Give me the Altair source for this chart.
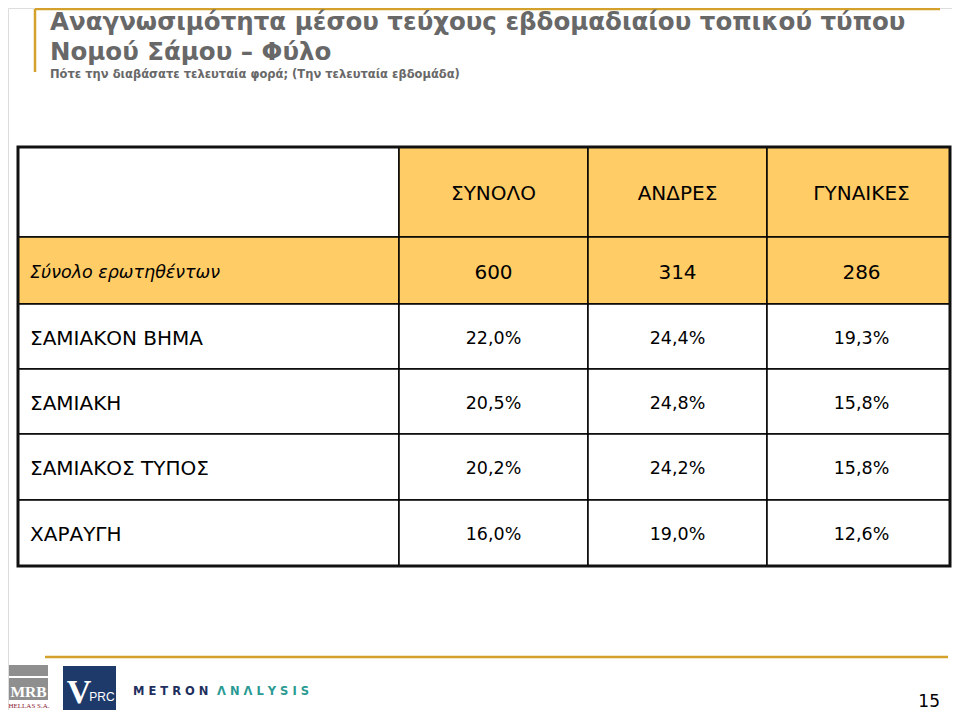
import altair as alt
import pandas as pd

# ---------------- data ----------------
col_headers = ["ΣΥΝΟΛΟ", "ΑΝΔΡΕΣ", "ΓΥΝΑΙΚΕΣ"]
base_label = "Σύνολο ερωτηθέντων"
base_counts = [600, 314, 286]
papers = ["ΣΑΜΙΑΚΟΝ ΒΗΜΑ", "ΣΑΜΙΑΚΗ", "ΣΑΜΙΑΚΟΣ ΤΥΠΟΣ", "ΧΑΡΑΥΓΗ"]
total_pct = [22.0, 20.5, 20.2, 16.0]
men_pct = [24.4, 24.8, 24.2, 19.0]
women_pct = [19.3, 15.8, 15.8, 12.6]

title_lines = ["Αναγνωσιμότητα μέσου τεύχους εβδομαδιαίου τοπικού τύπου",
               "Νομού Σάμου – Φύλο"]
subtitle = "Πότε την διαβάσατε τελευταία φορά; (Την τελευταία εβδομάδα)"
page_number = "15"

# ---------------- layout ----------------
W, H = 944, 702
COL_EDGES = [18, 399, 588, 767, 950]
ROW_EDGES = [147, 237, 304, 369, 434, 500, 566]
GOLD = "#FFCC66"
LINE_GOLD = "#D4A22C"
TITLE_GRAY = "#686868"
FONT = "DejaVu Sans"

xs = alt.Scale(domain=[8, 8 + W], range=[0, W])
ys = alt.Scale(domain=[8, 8 + H], range=[0, H])


def X(f):
    return alt.X(f"{f}:Q", scale=xs, axis=None)


def Y(f):
    return alt.Y(f"{f}:Q", scale=ys, axis=None)


def pct(v):
    return f"{v:.1f}".replace(".", ",") + "%"


# table cells
cells = []
texts = []
n_rows = 2 + len(papers)
series = [total_pct, men_pct, women_pct]
for r in range(n_rows):
    y0, y1 = ROW_EDGES[r], ROW_EDGES[r + 1]
    for c in range(4):
        x0, x1 = COL_EDGES[c], COL_EDGES[c + 1]
        if r == 0:
            fill = "white" if c == 0 else GOLD
        elif r == 1:
            fill = GOLD
        else:
            fill = "white"
        cells.append(dict(x=x0, x2=x1, y=y0, y2=y1, fill=fill))
        if r == 0:
            if c == 0:
                continue
            t, kind = col_headers[c - 1], "head"
        elif r == 1:
            if c == 0:
                t, kind = base_label, "base_label"
            else:
                t, kind = str(base_counts[c - 1]), "head"
        else:
            if c == 0:
                t, kind = papers[r - 2], "label"
            else:
                t, kind = pct(series[c - 1][r - 2]), "num"
        tx = x0 + 12 if c == 0 else (x0 + x1) / 2 + (3 if c == 3 else 0)
        texts.append(dict(x=tx, y=(y0 + y1) / 2, text=t, kind=kind))

cells_df = pd.DataFrame(cells)
texts_df = pd.DataFrame(texts)
outer_df = pd.DataFrame([dict(x=COL_EDGES[0], x2=COL_EDGES[-1],
                              y=ROW_EDGES[0], y2=ROW_EDGES[-1])])

rects = alt.Chart(cells_df).mark_rect(stroke="black", strokeWidth=1.5).encode(
    x=X("x"), x2="x2", y=Y("y"), y2="y2",
    fill=alt.Fill("fill:N", scale=None))

outer = alt.Chart(outer_df).mark_rect(
    fillOpacity=0, stroke="#111111", strokeWidth=3).encode(
    x=X("x"), x2="x2", y=Y("y"), y2="y2")


def text_layer(kind, align, size, style="normal", dy=2):
    d = texts_df[texts_df.kind == kind]
    return alt.Chart(d).mark_text(
        align=align, baseline="middle", font=FONT, fontSize=size,
        fontStyle=style, color="black", dy=dy).encode(
        x=X("x"), y=Y("y"), text="text:N")


t_head = text_layer("head", "center", 20)
t_base = text_layer("base_label", "left", 17.5, "italic")
t_label = text_layer("label", "left", 20)
t_num = text_layer("num", "center", 17.5)

# ---- header decorations ----
lines_df = pd.DataFrame([
    dict(x=35, x2=940, y=9, y2=9),
    dict(x=35, x2=35, y=9, y2=72),
    dict(x=45, x2=948, y=657, y2=657),
])
lines = alt.Chart(lines_df).mark_rule(color=LINE_GOLD, strokeWidth=2.5).encode(
    x=X("x"), x2="x2", y=Y("y"), y2="y2")

titles_df = pd.DataFrame([
    dict(x=50, y=30, text=title_lines[0]),
    dict(x=50, y=60, text=title_lines[1]),
])
titles = alt.Chart(titles_df).mark_text(
    align="left", baseline="alphabetic", font=FONT, fontSize=24.5,
    fontWeight="bold", color=TITLE_GRAY).encode(
    x=X("x"), y=Y("y"), text="text:N")

sub = alt.Chart(pd.DataFrame([dict(x=50, y=78, text=subtitle)])).mark_text(
    align="left", baseline="alphabetic", font=FONT, fontSize=11.5,
    fontWeight="bold", color=TITLE_GRAY).encode(
    x=X("x"), y=Y("y"), text="text:N")

# ---- footer logos ----
logo_rects = pd.DataFrame([
    dict(x=9, x2=48, y=665, y2=676, fill="#8f8f8f"),
    dict(x=9, x2=48, y=678, y2=700, fill="#8f8f8f"),
    dict(x=63, x2=116, y=666, y2=710, fill="#1E3A6B"),
])
logos = alt.Chart(logo_rects).mark_rect().encode(
    x=X("x"), x2="x2", y=Y("y"), y2="y2", fill=alt.Fill("fill:N", scale=None))

mrb = alt.Chart(pd.DataFrame([dict(x=28.5, y=697, text="MRB")])).mark_text(
    align="center", baseline="alphabetic", font="Liberation Serif",
    fontSize=15.5, fontWeight="bold", color="white").encode(
    x=X("x"), y=Y("y"), text="text:N")
hellas = alt.Chart(pd.DataFrame([dict(x=29, y=708, text="HELLAS S.A.")])).mark_text(
    align="center", baseline="alphabetic", font="Liberation Serif",
    fontSize=7, color="#8B2232").encode(
    x=X("x"), y=Y("y"), text="text:N")
vletter = alt.Chart(pd.DataFrame([dict(x=79, y=703, text="V")])).mark_text(
    align="center", baseline="alphabetic", font="Liberation Serif",
    fontSize=34, fontWeight="bold", color="white").encode(
    x=X("x"), y=Y("y"), text="text:N")
prc = alt.Chart(pd.DataFrame([dict(x=102, y=701, text="PRC")])).mark_text(
    align="center", baseline="alphabetic", font="Liberation Sans",
    fontSize=12, color="white").encode(
    x=X("x"), y=Y("y"), text="text:N")
metron_df = pd.DataFrame([
    dict(x=133, y=695, text="M E T R O N", color="#1E2F5E"),
    dict(x=217, y=695, text="Λ N Λ L Y S I S", color="#2A9A93"),
])
metron = alt.Chart(metron_df).mark_text(
    align="left", baseline="alphabetic", font=FONT, fontSize=11.5,
    fontWeight="bold").encode(
    x=X("x"), y=Y("y"), text="text:N", color=alt.Color("color:N", scale=None))

page = alt.Chart(pd.DataFrame([dict(x=940, y=707, text=page_number)])).mark_text(
    align="right", baseline="alphabetic", font=FONT, fontSize=17,
    color="black").encode(x=X("x"), y=Y("y"), text="text:N")

chart = alt.layer(
    rects, outer, t_head, t_base, t_label, t_num,
    lines, titles, sub, logos, mrb, hellas, vletter, prc, metron, page
).properties(
    width=W, height=H, padding=0, autosize=alt.AutoSizeParams(type="none")
).configure_view(stroke=None).configure(background="white")

chart.save("out.html", embed_options={"renderer": "svg", "actions": False})
